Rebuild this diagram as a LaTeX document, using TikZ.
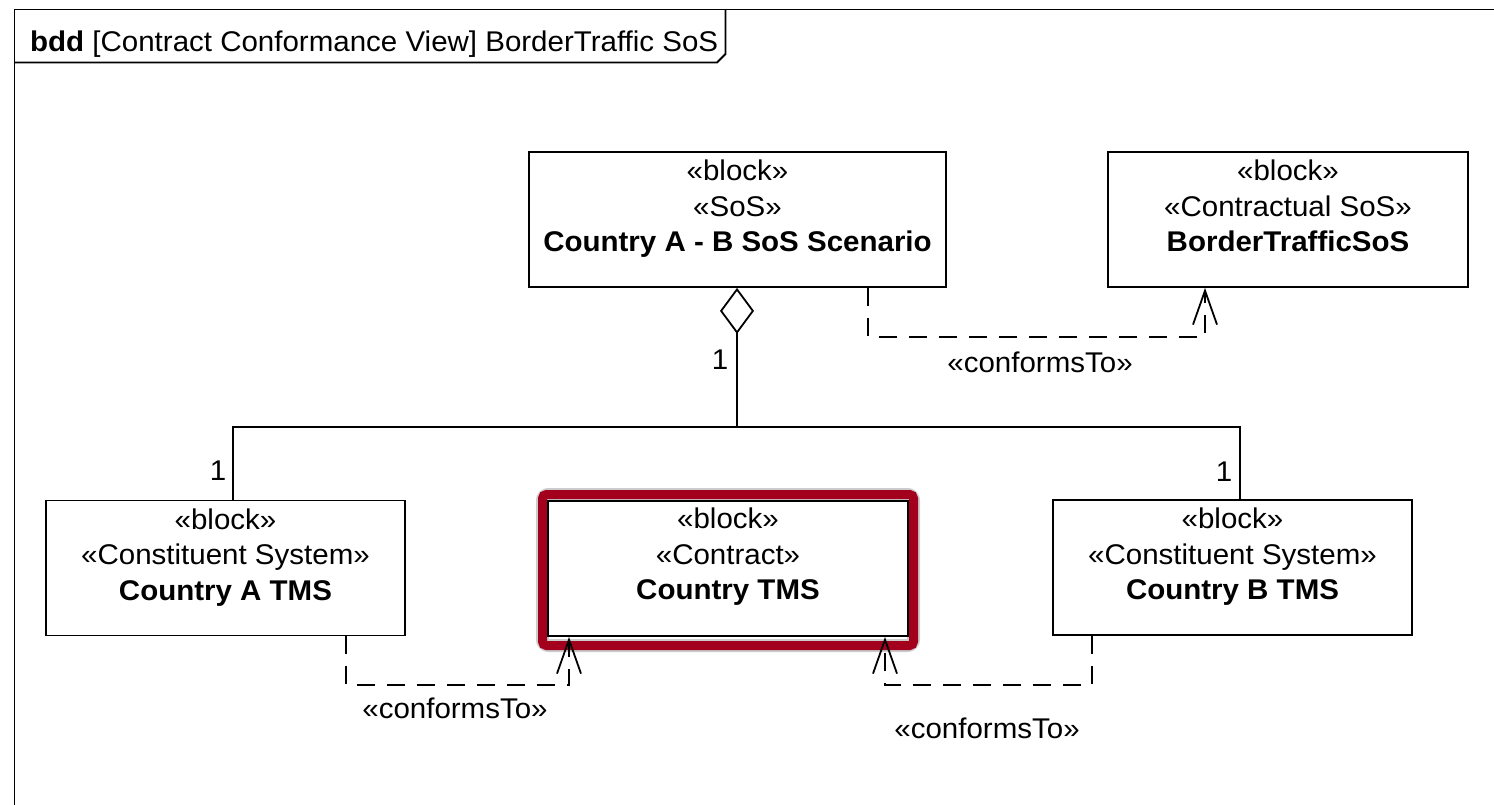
\documentclass[tikz,border=0pt]{standalone}
\usepackage{fontspec}
\setmainfont{Liberation Sans}[FakeStretch=1.035]
\usetikzlibrary{arrows.meta,calc}
\definecolor{hilite}{HTML}{A3001E}
\begin{document}
\begin{tikzpicture}[x=1pt,y=-1pt,
  blk/.style={draw, line width=1.8pt, minimum width=#1, minimum height=135pt, inner sep=0pt},
  btext/.style={anchor=north, align=center, inner sep=0pt, font=\fontsize{28.5}{35.5}\selectfont},
  lbl/.style={inner sep=0pt, font=\fontsize{28.5}{35.5}\selectfont},
  dep/.style={line width=1.8pt, dash pattern=on 18pt off 12pt, -{Straight Barb[length=34pt,width=24pt]}},
  assoc/.style={line width=1.8pt},
  agg/.style={line width=1.8pt, -{Diamond[open,length=46pt,width=34pt]}}]
\useasboundingbox (0,0) rectangle (1494,805);

% diagram frame and its name tab
\draw[line width=1.8pt] (14.5,820) -- (14.5,9.5) -- (1510,9.5);
\draw[line width=1.8pt] (14.5,62.5) -- (717,62.5) -- (725.5,54) -- (725.5,9.5);
\node[lbl, anchor=base west] (title) at (30,52) {\textbf{bdd} [Contract Conformance View] BorderTraffic SoS};

% highlight around the contract block
\draw[gray!40, line width=13pt, rounded corners=6pt] (542.5,494.5) rectangle (913.5,645.5);
\draw[hilite, line width=9pt, rounded corners=4pt] (542.5,494.5) rectangle (913.5,645.5);

% blocks
\node[blk=417pt] (scen) at (737.5,219.5) {};
\node[blk=360pt] (bts)  at (1288,219.5) {};
\node[blk=359pt] (ctaA) at (225.5,568) {};
\node[blk=360pt] (ctms) at (728,568.5) {};
\node[blk=359pt] (ctB)  at (1232.5,567.5) {};

\node[btext] (scen-t) at ($(scen.north)+(0,9)$) {«block»\\«SoS»\\\textbf{Country A - B SoS Scenario}};
\node[btext] (bts-t)  at ($(bts.north)+(0,9)$)  {«block»\\«Contractual SoS»\\\textbf{BorderTrafficSoS}};
\node[btext] (ctaA-t) at ($(ctaA.north)+(0,9)$) {«block»\\«Constituent System»\\\textbf{Country A TMS}};
\node[btext] (ctms-t) at ($(ctms.north)+(0,8)$) {«block»\\«Contract»\\\textbf{Country TMS}};
\node[btext] (ctB-t)  at ($(ctB.north)+(0,9)$)  {«block»\\«Constituent System»\\\textbf{Country B TMS}};

% aggregation: scenario owns both constituent systems
\coordinate (bus) at (737,427);
\draw[agg] (bus) -- (737,0 |- scen.south);
\draw[assoc] (233,0 |- ctaA.north) -- (233,0 |- bus) -- (1240,0 |- bus) -- (1240,0 |- ctB.north);
\node[lbl] (m1) at (720,360) {1};
\node[lbl] (m2) at (218,471) {1};
\node[lbl] (m3) at (1224,472) {1};

% conformance dependencies
\draw[dep] (868,0 |- scen.south) |- (1040,337) -| (1205,0 |- bts.south);
\node[lbl] (cf1) at (1040,362) {«conformsTo»};
\draw[dep] (346,0 |- ctaA.south) |- (460,685) -| (569,0 |- ctms.south);
\node[lbl] (cf2) at (455,708) {«conformsTo»};
\draw[dep] (1092,0 |- ctB.south) |- (990,685) -| (885,0 |- ctms.south);
\node[lbl] (cf3) at (987,728) {«conformsTo»};
\end{tikzpicture}
\end{document}
